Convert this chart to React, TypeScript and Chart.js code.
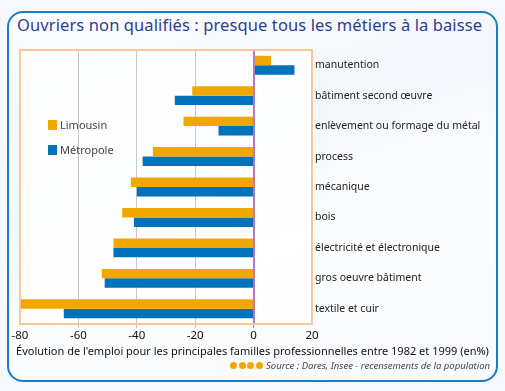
import React, { useEffect, useRef } from "react";
import { Chart, registerables } from "chart.js";

Chart.register(...registerables);

const categories = [
  "manutention",
  "bâtiment second œuvre",
  "enlèvement ou formage du métal",
  "process",
  "mécanique",
  "bois",
  "électricité et électronique",
  "gros oeuvre bâtiment",
  "textile et cuir",
];
const limousin = [6, -21, -24, -34.5, -42, -45, -48, -52, -80];
const metropole = [14, -27, -12, -38, -40, -41, -48, -51, -65];
const xTicks = [-80, -60, -40, -20, 0, 20];

const FONT = "'Noto Sans', 'Open Sans', sans-serif";

export default function App() {
  const ref = useRef<HTMLCanvasElement | null>(null);

  useEffect(() => {
    document.body.style.margin = "0";
    const canvas = ref.current!;
    const framePlugin = {
      id: "frame",
      afterDatasetsDraw(chart: any) {
        const { ctx, chartArea: a, scales } = chart;
        ctx.save();
        const x0 = scales.x.getPixelForValue(0);
        ctx.strokeStyle = "#b878c0";
        ctx.lineWidth = 1;
        ctx.beginPath();
        ctx.moveTo(Math.round(x0) + 0.5, a.top);
        ctx.lineTo(Math.round(x0) + 0.5, a.bottom);
        ctx.stroke();
        ctx.strokeStyle = "#f8c894";
        ctx.lineWidth = 2;
        ctx.strokeRect(a.left, a.top, a.right - a.left, a.bottom - a.top);
        ctx.restore();
      },
    };
    const chart = new Chart(canvas, {
      type: "bar",
      data: {
        labels: categories,
        datasets: [
          { label: "Limousin", data: limousin, backgroundColor: "#f0a800" },
          { label: "Métropole", data: metropole, backgroundColor: "#0072bb" },
        ],
      },
      plugins: [framePlugin],
      options: {
        indexAxis: "y",
        animation: false,
        responsive: false,
        maintainAspectRatio: false,
        layout: { padding: { left: 20, top: 50, right: 0, bottom: 0 } },
        datasets: { bar: { categoryPercentage: 0.62, barPercentage: 1 } },
        plugins: { legend: { display: false }, tooltip: { enabled: false }, title: { display: false } },
        scales: {
          x: {
            min: -80,
            max: 20,
            afterBuildTicks(scale: any) {
              scale.ticks = xTicks.map((v) => ({ value: v }));
            },
            afterFit(scale: any) {
              scale.height = 67;
            },
            grid: {
              color: (c: any) => {
                const v = c.tick && c.tick.value;
                if (v === -80 || v === 20) return "rgba(0,0,0,0)";
                if (v === 0) return "#b878c0";
                return "#c8c8c8";
              },
              lineWidth: 1,
              tickLength: 4,
              drawOnChartArea: true,
            },
            border: { display: false },
            ticks: {
              color: "#111",
              font: { family: FONT, size: 11.5 },
              padding: 1,
              maxRotation: 0,
              autoSkip: false,
            },
          },
          y: {
            position: "right",
            afterFit(scale: any) {
              scale.width = 193;
            },
            grid: { display: false, drawTicks: false, tickLength: 0 },
            border: { display: false },
            ticks: {
              color: "#222",
              font: { family: FONT, size: 10.5 },
              padding: 3,
              autoSkip: false,
            },
          },
        },
      },
    });
    return () => chart.destroy();
  }, []);

  return (
    <div
      style={{
        position: "fixed",
        left: 0,
        top: 0,
        width: 505,
        height: 391,
        background: "#f5f8fc",
        fontFamily: FONT,
        overflow: "hidden",
      }}
    >
      <div
        style={{
          position: "absolute",
          left: 7,
          top: 11,
          width: 487,
          height: 367,
          border: "2px solid #1a7cc9",
          borderRadius: 16,
          background: "linear-gradient(160deg, #fbfcfe 0%, #f3f6fb 40%, #fcfdfe 60%, #f7f9fc 100%)",
        }}
      />
      <div
        style={{
          position: "absolute",
          left: 17,
          top: 13,
          fontSize: 16.5,
          color: "#2e3d92",
          whiteSpace: "nowrap",
          letterSpacing: 0.1,
        }}
      >
        Ouvriers non qualifiés : presque tous les métiers à la baisse
      </div>
      <div
        style={{
          position: "absolute",
          left: 20,
          top: 50,
          width: 292,
          height: 274,
          background: "rgba(255,255,255,0.75)",
        }}
      />
      <canvas
        ref={ref}
        width={505}
        height={391}
        style={{ position: "absolute", left: 0, top: 0, width: 505, height: 391 }}
      />
      <div style={{ position: "absolute", left: 48, top: 117, display: "flex", alignItems: "center", fontSize: 11, color: "#444" }}>
        <span style={{ display: "inline-block", width: 9, height: 10, background: "#f0a800", marginRight: 3 }} />
        Limousin
      </div>
      <div style={{ position: "absolute", left: 48, top: 142, display: "flex", alignItems: "center", fontSize: 11, color: "#444" }}>
        <span style={{ display: "inline-block", width: 9, height: 10, background: "#0072bb", marginRight: 3 }} />
        Métropole
      </div>
      <div
        style={{
          position: "absolute",
          left: 0,
          width: 505,
          top: 343,
          textAlign: "center",
          fontSize: 11,
          color: "#111",
          whiteSpace: "nowrap",
        }}
      >
        Évolution de l'emploi pour les principales familles professionnelles entre 1982 et 1999 (en%)
      </div>
      <div
        style={{
          position: "absolute",
          right: 15,
          top: 359,
          display: "flex",
          alignItems: "center",
          fontSize: 9.5,
          fontStyle: "italic",
          color: "#444",
          whiteSpace: "nowrap",
        }}
      >
        {[0, 1, 2, 3].map((i) => (
          <span
            key={i}
            style={{ display: "inline-block", width: 7, height: 7, borderRadius: "50%", background: "#f0a800", marginRight: 1.5 }}
          />
        ))}
        <span style={{ marginLeft: 2 }}>Source : Dares, Insee - recensements de la population</span>
      </div>
    </div>
  );
}
